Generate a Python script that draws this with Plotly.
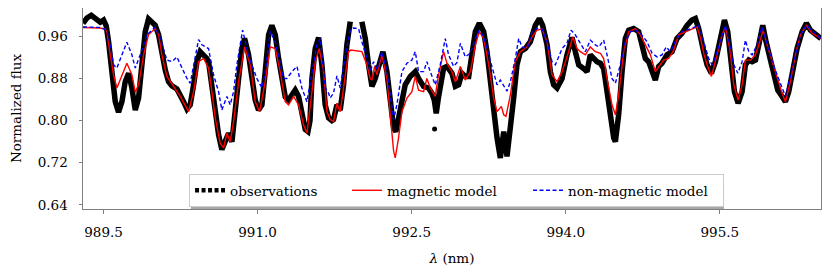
import plotly.graph_objects as go

# ---------------- data ----------------
obs_wl = [989.300, 989.338, 989.380, 989.435, 989.468, 989.500, 989.526, 989.549, 989.581, 989.614,
          989.646, 989.679, 989.711, 989.744, 989.776, 989.809, 989.841, 989.873, 989.906, 989.938,
          989.971, 990.003, 990.036, 990.068, 990.101, 990.133, 990.166, 990.214, 990.247, 990.279,
          990.312, 990.344, 990.377, 990.409, 990.441, 990.474, 990.506, 990.522, 990.555, 990.587,
          990.620, 990.652, 990.685, 990.717, 990.750, 990.782, 990.815, 990.847, 990.873, 990.912,
          990.944, 990.977, 991.009, 991.042, 991.074, 991.107, 991.139, 991.172, 991.204, 991.237,
          991.269, 991.301, 991.334, 991.366, 991.399, 991.431, 991.464, 991.490, 991.510, 991.529,
          991.561, 991.594, 991.626, 991.658, 991.691, 991.723, 991.739, 991.772, 991.804, 991.837,
          991.869, 991.902, 991.950, 992.015, 992.048, 992.080, 992.096, 992.113, 992.145, 992.178,
          992.220, 992.259, 992.291, 992.324, 992.346, 992.372, 992.405, 992.437, 992.486, 992.535,
          992.567, 992.616, 992.664, 992.697, 992.720, 992.739, 992.760, 992.790, 992.811, 992.843,
          992.892, 992.925, 992.957, 992.990, 993.022, 993.055, 993.087, 993.120, 993.159, 993.201,
          993.233, 993.266, 993.298, 993.331, 993.363, 993.396, 993.428, 993.461, 993.493, 993.525,
          993.558, 993.607, 993.655, 993.704, 993.743, 993.775, 993.818, 993.850, 993.882, 993.915,
          993.964, 994.012, 994.061, 994.093, 994.126, 994.174, 994.207, 994.239, 994.272, 994.304,
          994.337, 994.369, 994.402, 994.434, 994.467, 994.483, 994.515, 994.548, 994.580, 994.613,
          994.661, 994.710, 994.742, 994.775, 994.807, 994.840, 994.872, 994.905, 994.937, 994.986,
          995.035, 995.083, 995.132, 995.181, 995.229, 995.262, 995.294, 995.343, 995.376, 995.418,
          995.457, 995.506, 995.545, 995.577, 995.610, 995.642, 995.678, 995.717, 995.749, 995.782,
          995.814, 995.847, 995.879, 995.918, 995.950, 995.993, 996.025, 996.064, 996.106, 996.139,
          996.171, 996.204, 996.252, 996.301, 996.343, 996.382, 996.431, 996.485]
obs_flux = [0.985, 0.995, 1.000, 0.990, 0.987, 0.991, 0.980, 0.950, 0.893, 0.836,
            0.816, 0.836, 0.874, 0.890, 0.862, 0.820, 0.843, 0.906, 0.969, 0.993,
            0.988, 0.981, 0.963, 0.925, 0.896, 0.874, 0.866, 0.860, 0.849, 0.836,
            0.822, 0.830, 0.868, 0.912, 0.931, 0.925, 0.918, 0.912, 0.862, 0.817,
            0.773, 0.745, 0.760, 0.776, 0.760, 0.811, 0.880, 0.937, 0.956, 0.925,
            0.874, 0.839, 0.820, 0.830, 0.893, 0.963, 0.981, 0.963, 0.918, 0.874,
            0.845, 0.839, 0.849, 0.858, 0.846, 0.811, 0.783, 0.779, 0.800, 0.880,
            0.937, 0.958, 0.906, 0.830, 0.805, 0.800, 0.802, 0.830, 0.820, 0.868,
            0.944, 0.988, None, 0.988, 0.956, 0.906, 0.874, 0.865, 0.880, 0.899,
            0.931, 0.893, 0.836, 0.786, 0.779, 0.805, 0.836, 0.868, 0.884, 0.893,
            0.880, 0.865, 0.862, 0.852, 0.839, 0.814, 0.843, 0.885, 0.900, 0.903,
            0.890, 0.865, 0.868, 0.890, 0.884, 0.884, 0.925, 0.969, 0.985, 0.969,
            0.931, 0.874, 0.811, 0.767, 0.729, 0.779, 0.732, 0.779, 0.843, 0.906,
            0.931, 0.937, 0.950, 0.981, 0.994, 0.981, 0.944, 0.893, 0.868, 0.862,
            0.880, 0.925, 0.958, 0.931, 0.906, 0.899, 0.893, 0.925, 0.918, 0.912,
            0.909, 0.899, 0.855, 0.805, 0.767, 0.760, 0.811, 0.893, 0.956, 0.972,
            0.975, 0.969, 0.944, 0.918, 0.912, 0.893, 0.877, 0.903, 0.909, 0.925,
            0.931, 0.956, 0.966, 0.981, 0.991, 0.994, 0.975, 0.931, 0.906, 0.890,
            0.912, 0.956, 0.991, 0.969, 0.906, 0.855, 0.833, 0.855, 0.906, 0.915,
            0.912, 0.915, 0.944, 0.981, 0.950, 0.918, 0.893, 0.858, 0.846, 0.836,
            0.855, 0.893, 0.937, 0.969, 0.985, 0.972, 0.963, 0.956]

# isolated observation points
obs_extra_wl = [992.723]
obs_extra_flux = [0.784]

mag_wl = [989.300, 989.387, 989.468, 989.515, 989.533, 989.565, 989.598, 989.630, 989.679, 989.727,
          989.776, 989.809, 989.841, 989.890, 989.938, 990.003, 990.036, 990.068, 990.117, 990.182,
          990.247, 990.328, 990.377, 990.425, 990.474, 990.506, 990.522, 990.555, 990.587, 990.636,
          990.669, 990.701, 990.733, 990.766, 990.815, 990.873, 990.928, 990.977, 991.019, 991.074,
          991.123, 991.172, 991.220, 991.269, 991.301, 991.350, 991.399, 991.447, 991.480, 991.529,
          991.561, 991.600, 991.642, 991.675, 991.707, 991.739, 991.772, 991.804, 991.837, 991.886,
          991.908, 992.015, 992.064, 992.096, 992.113, 992.139, 992.161, 992.210, 992.259, 992.291,
          992.324, 992.340, 992.372, 992.405, 992.454, 992.502, 992.535, 992.567, 992.616, 992.648,
          992.681, 992.729, 992.762, 992.811, 992.843, 992.892, 992.925, 992.974, 993.022, 993.071,
          993.120, 993.159, 993.201, 993.250, 993.298, 993.331, 993.373, 993.396, 993.418, 993.461,
          993.509, 993.558, 993.623, 993.672, 993.720, 993.769, 993.818, 993.866, 993.915, 993.964,
          994.029, 994.068, 994.110, 994.142, 994.191, 994.239, 994.288, 994.337, 994.369, 994.402,
          994.450, 994.483, 994.515, 994.564, 994.613, 994.678, 994.726, 994.775, 994.824, 994.872,
          994.905, 994.953, 995.002, 995.051, 995.099, 995.164, 995.229, 995.278, 995.311, 995.343,
          995.376, 995.418, 995.473, 995.522, 995.554, 995.597, 995.636, 995.678, 995.717, 995.749,
          995.798, 995.847, 995.889, 995.921, 995.960, 996.009, 996.058, 996.106, 996.139, 996.187,
          996.236, 996.285, 996.343, 996.398, 996.485]
mag_flux = [0.977, 0.977, 0.976, 0.974, 0.968, 0.925, 0.887, 0.862, 0.884, 0.909,
            0.887, 0.854, 0.868, 0.925, 0.963, 0.975, 0.963, 0.925, 0.884, 0.865,
            0.846, 0.817, 0.855, 0.912, 0.918, 0.906, 0.900, 0.855, 0.805, 0.757,
            0.748, 0.776, 0.760, 0.798, 0.874, 0.940, 0.906, 0.836, 0.817, 0.874,
            0.940, 0.937, 0.893, 0.836, 0.830, 0.846, 0.830, 0.792, 0.776, 0.855,
            0.912, 0.937, 0.893, 0.817, 0.802, 0.798, 0.833, 0.817, 0.862, 0.931,
            0.934, 0.931, 0.906, 0.880, 0.877, 0.903, 0.887, 0.925, 0.880, 0.817,
            0.742, 0.729, 0.767, 0.817, 0.843, 0.855, 0.884, 0.858, 0.855, 0.880,
            0.862, 0.846, 0.887, 0.931, 0.909, 0.893, 0.874, 0.903, 0.877, 0.893,
            0.944, 0.969, 0.956, 0.906, 0.843, 0.817, 0.827, 0.811, 0.808, 0.849,
            0.912, 0.931, 0.940, 0.959, 0.972, 0.974, 0.950, 0.887, 0.874, 0.893,
            0.931, 0.959, 0.937, 0.931, 0.925, 0.940, 0.931, 0.928, 0.918, 0.880,
            0.830, 0.811, 0.849, 0.931, 0.969, 0.975, 0.963, 0.944, 0.925, 0.893,
            0.903, 0.915, 0.918, 0.934, 0.963, 0.969, 0.975, 0.978, 0.958, 0.928,
            0.906, 0.884, 0.925, 0.963, 0.978, 0.937, 0.868, 0.839, 0.868, 0.915,
            0.915, 0.925, 0.950, 0.972, 0.944, 0.912, 0.880, 0.852, 0.836, 0.874,
            0.925, 0.963, 0.981, 0.966, 0.956]

nonmag_wl = [989.300, 989.387, 989.468, 989.533, 989.565, 989.598, 989.630, 989.679, 989.727, 989.776,
             989.809, 989.857, 989.922, 990.003, 990.052, 990.117, 990.166, 990.214, 990.263, 990.312,
             990.344, 990.377, 990.425, 990.458, 990.506, 990.522, 990.571, 990.620, 990.652, 990.701,
             990.733, 990.766, 990.798, 990.831, 990.854, 990.896, 990.944, 990.993, 991.042, 991.074,
             991.123, 991.172, 991.220, 991.253, 991.285, 991.334, 991.383, 991.431, 991.480, 991.529,
             991.577, 991.610, 991.658, 991.691, 991.707, 991.739, 991.772, 991.804, 991.853, 991.902,
             991.934, 991.983, 992.015, 992.064, 992.096, 992.129, 992.161, 992.210, 992.259, 992.291,
             992.324, 992.356, 992.405, 992.454, 992.502, 992.535, 992.567, 992.616, 992.648, 992.681,
             992.729, 992.778, 992.827, 992.859, 992.908, 992.940, 992.974, 993.022, 993.071, 993.120,
             993.159, 993.201, 993.250, 993.298, 993.331, 993.363, 993.396, 993.428, 993.461, 993.509,
             993.542, 993.574, 993.623, 993.672, 993.720, 993.769, 993.818, 993.866, 993.899, 993.964,
             994.012, 994.051, 994.093, 994.132, 994.171, 994.191, 994.239, 994.288, 994.321, 994.369,
             994.402, 994.450, 994.483, 994.531, 994.580, 994.629, 994.678, 994.726, 994.791, 994.840,
             994.889, 994.937, 994.979, 995.018, 995.083, 995.132, 995.181, 995.246, 995.294, 995.343,
             995.392, 995.425, 995.473, 995.522, 995.554, 995.597, 995.636, 995.675, 995.717, 995.749,
             995.782, 995.814, 995.863, 995.911, 995.960, 996.009, 996.058, 996.106, 996.139, 996.187,
             996.236, 996.285, 996.343, 996.398, 996.485]
nonmag_flux = [0.978, 0.978, 0.977, 0.972, 0.944, 0.906, 0.900, 0.925, 0.949, 0.925,
               0.900, 0.925, 0.963, 0.978, 0.956, 0.915, 0.912, 0.921, 0.900, 0.880,
               0.871, 0.906, 0.954, 0.944, 0.938, 0.937, 0.887, 0.855, 0.820, 0.846,
               0.830, 0.855, 0.906, 0.944, 0.972, 0.937, 0.906, 0.880, 0.862, 0.893,
               0.969, 0.950, 0.912, 0.880, 0.880, 0.893, 0.903, 0.862, 0.836, 0.887,
               0.944, 0.956, 0.862, 0.852, 0.843, 0.852, 0.885, 0.862, 0.922, 0.972,
               0.976, 0.975, 0.950, 0.918, 0.893, 0.912, 0.896, 0.931, 0.893, 0.849,
               0.802, 0.830, 0.893, 0.909, 0.915, 0.931, 0.893, 0.893, 0.912, 0.893,
               0.868, 0.906, 0.956, 0.925, 0.903, 0.910, 0.947, 0.921, 0.928, 0.956,
               0.972, 0.959, 0.925, 0.893, 0.868, 0.877, 0.865, 0.856, 0.874, 0.918,
               0.956, 0.940, 0.937, 0.969, 0.975, 0.974, 0.950, 0.912, 0.906, 0.937,
               0.947, 0.972, 0.963, 0.950, 0.935, 0.931, 0.953, 0.944, 0.940, 0.953,
               0.925, 0.880, 0.871, 0.906, 0.950, 0.969, 0.972, 0.966, 0.950, 0.928,
               0.921, 0.925, 0.940, 0.931, 0.956, 0.969, 0.972, 0.978, 0.981, 0.950,
               0.918, 0.906, 0.931, 0.963, 0.981, 0.944, 0.906, 0.890, 0.912, 0.953,
               0.931, 0.925, 0.944, 0.978, 0.944, 0.912, 0.887, 0.862, 0.846, 0.884,
               0.925, 0.963, 0.981, 0.972, 0.956]

x_ticks = [989.5, 991.0, 992.5, 994.0, 995.5]
y_ticks = [0.64, 0.72, 0.80, 0.88, 0.96]
x_range = [989.30, 996.485]
y_range = [0.632, 1.014]

labels = ["observations", "magnetic model", "non-magnetic model"]

# ---------------- figure ----------------
FONT = "DejaVu Serif"
fig = go.Figure()

fig.add_trace(go.Scatter(x=obs_wl, y=obs_flux, mode="lines", connectgaps=False,
                         line=dict(color="black", width=5.5), showlegend=False, hoverinfo="skip"))
fig.add_trace(go.Scatter(x=obs_extra_wl, y=obs_extra_flux, mode="markers",
                         marker=dict(color="black", size=5), showlegend=False))
# legend entry for observations (dotted sample)
fig.add_trace(go.Scatter(x=[None], y=[None], mode="lines", name=labels[0],
                         line=dict(color="black", width=4.5, dash="4px,2.5px"), legendwidth=112))
fig.add_trace(go.Scatter(x=mag_wl, y=mag_flux, mode="lines", name=labels[1],
                         line=dict(color="#ff0000", width=1.4), legendwidth=136))
fig.add_trace(go.Scatter(x=nonmag_wl, y=nonmag_flux, mode="lines", name=labels[2],
                         line=dict(color="#0000ff", width=1.4, dash="4px,2.5px"), legendwidth=150))

axis_common = dict(showline=True, linecolor="#808080", linewidth=1, mirror=True,
                   ticks="outside", ticklen=3.5, tickwidth=1, tickcolor="#808080",
                   showgrid=False, zeroline=False,
                   tickfont=dict(family=FONT, size=13.5, color="black"))

fig.update_xaxes(range=x_range, tickvals=x_ticks, tickformat=".1f",
                 title=dict(text="<i>λ</i> (nm)", font=dict(family=FONT, size=13.5, color="black"),
                            standoff=14),
                 ticklabelstandoff=7, **axis_common)
fig.update_yaxes(range=y_range, tickvals=y_ticks, tickformat=".2f",
                 title=dict(text="Normalized flux", font=dict(family=FONT, size=13.5, color="black"),
                            standoff=17),
                 ticklabelstandoff=8, **axis_common)

# legend shadow
fig.add_shape(type="rect", xref="paper", yref="paper",
              x0=0.1463, x1=0.8686, y0=0.0, y1=0.134,
              fillcolor="rgba(110,110,110,0.6)", line=dict(width=0), layer="above")

fig.update_layout(
    width=822, height=269,
    margin=dict(l=75, r=9, t=0, b=68),
    paper_bgcolor="white", plot_bgcolor="white",
    font=dict(family=FONT, size=13.5, color="black"),
    legend=dict(orientation="h", x=0.1437, y=0.01, xanchor="left", yanchor="bottom",
                bgcolor="white", bordercolor="#cccccc", borderwidth=1,
                font=dict(family=FONT, size=13.5, color="black")),
)

fig.write_html("out.html")
